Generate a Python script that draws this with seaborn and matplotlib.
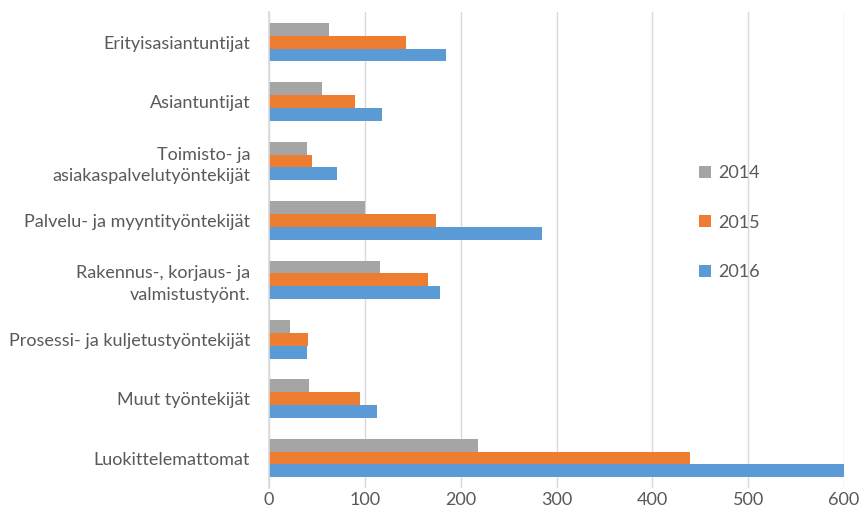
import matplotlib
matplotlib.use("Agg")
import numpy as np
import pandas as pd
import matplotlib.pyplot as plt
import seaborn as sns

# values
categories = ["Erityisasiantuntijat", "Asiantuntijat",
              "Toimisto- ja\nasiakaspalvelutyöntekijät",
              "Palvelu- ja myyntityöntekijät",
              "Rakennus-, korjaus- ja\nvalmistustyönt.",
              "Prosessi- ja kuljetustyöntekijät",
              "Muut työntekijät", "Luokittelemattomat"]
years = ["2014", "2015", "2016"]
v2014 = [63, 55, 40, 100, 116, 22, 42, 218]
v2015 = [143, 90, 45, 174, 166, 41, 95, 439]
v2016 = [185, 118, 71, 285, 178, 40, 113, 600]
colors = ["#A5A5A5", "#ED7D31", "#5B9BD5"]

df = pd.DataFrame({
    "kategoria": categories * 3,
    "vuosi": [y for y in years for _ in categories],
    "arvo": v2014 + v2015 + v2016,
})

sns.set_style("white")
plt.rcParams["font.family"] = ["Lato", "DejaVu Sans"]
txt = "#595959"

fig = plt.figure(figsize=(8.61, 5.2), dpi=100)
ax = fig.add_axes([0.3124, 0.062, 0.668, 0.914])
sns.barplot(data=df, x="arvo", y="kategoria", hue="vuosi", orient="h",
            hue_order=years, palette=colors, width=0.65, gap=0,
            saturation=1, edgecolor="none", ax=ax)

ax.set_xlim(0, 600)
ax.set_xticks(np.arange(0, 601, 100))
ax.xaxis.grid(True, color="#D9D9D9", linewidth=1)
ax.set_axisbelow(True)
ax.set_xlabel("")
ax.set_ylabel("")
for s in ["top", "right", "bottom"]:
    ax.spines[s].set_visible(False)
ax.spines["left"].set_color("#D9D9D9")
ax.spines["left"].set_linewidth(1.2)
ax.tick_params(axis="both", length=0, labelsize=13, labelcolor=txt)
ax.tick_params(axis="y", pad=13.5)
ax.tick_params(axis="x", pad=3)
for lab in ax.get_yticklabels():
    lab.set_horizontalalignment("right")
    lab.set_multialignment("right")
    lab.set_linespacing(1.45)

ax.legend(loc="center left", bbox_to_anchor=(0.72, 0.558), frameon=False,
          fontsize=13, labelcolor=txt, labelspacing=1.85, handlelength=0.65,
          handleheight=0.65, handletextpad=0.4)

fig.savefig("out.png", dpi=100)
